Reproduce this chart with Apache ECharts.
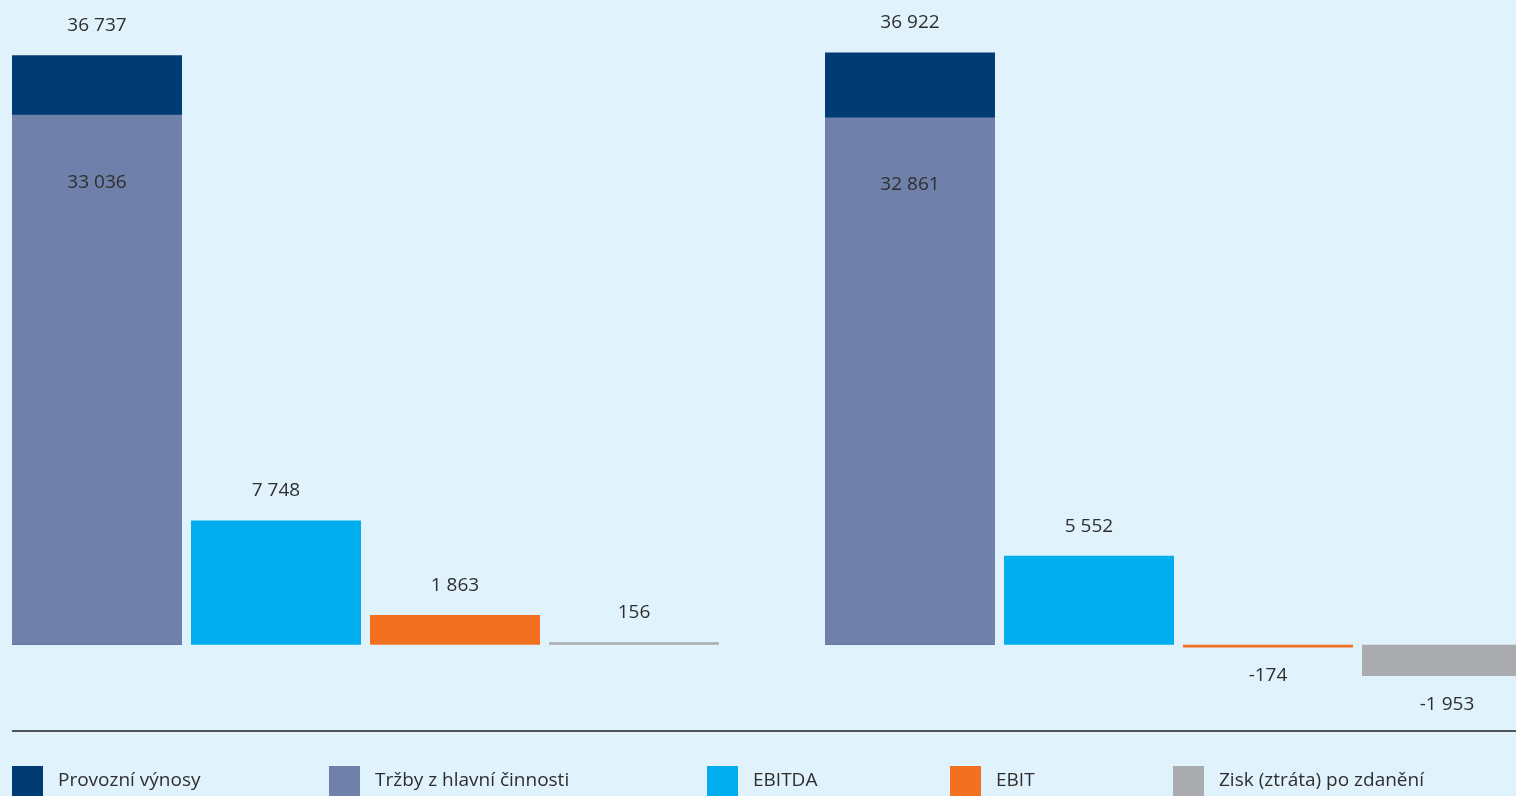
<!DOCTYPE html>
<html>
<head>
<meta charset="utf-8">
<script src="https://cdn.jsdelivr.net/npm/echarts@6/dist/echarts.min.js"></script>
<style>
html,body{margin:0;padding:0;background:#e0f2fc;}
#chart{width:1516px;height:796px;}
</style>
</head>
<body>
<div id="chart"></div>
<script>
const categories = ["Období 1", "Období 2"];
const provozniVynosy = [36737, 36922];
const trzby = [33036, 32861];
const ebitda = [7748, 5552];
const ebit = [1863, -174];
const zisk = [156, -1953];
const seriesNames = ["Provozní výnosy", "Tržby z hlavní činnosti", "EBITDA", "EBIT", "Zisk (ztráta) po zdanění"];
const colors = ["#003b73", "#6f80aa", "#00aeef", "#f37021", "#aaabaf"];

const FONT = "Open Sans";
const TXT = "#2e2e2e";
const fmt = v => {
  const s = Math.abs(v).toString().replace(/\B(?=(\d{3})+(?!\d))/g, " ");
  return (v < 0 ? "-" : "") + s;
};
const posLabel = {
  show: true,
  position: "top",
  distance: 20,
  fontFamily: FONT,
  fontSize: 19,
  color: TXT,
  formatter: p => fmt(p.value)
};
const signedLabel = (vals) => vals.map(v => ({
  value: v,
  label: Object.assign({}, posLabel, { position: v < 0 ? "bottom" : "top", distance: v < 0 ? 19 : 20 })
}));

const chart = echarts.init(document.getElementById("chart"));
const gridW = 1626;
const option = {
  backgroundColor: "#e0f2fc",
  animation: false,
  grid: [
    { left: -41, top: 3, width: gridW, bottom: 71, outerBoundsMode: "none", containLabel: false },
    { left: -309.5, top: 3, width: gridW, bottom: 71, outerBoundsMode: "none", containLabel: false }
  ],
  xAxis: [
    { type: "category", data: categories, gridIndex: 0, show: false },
    { type: "category", data: categories, gridIndex: 1, show: false }
  ],
  yAxis: [
    { type: "value", gridIndex: 0, min: -5000, max: 40000, show: false, splitLine: { show: false } },
    { type: "value", gridIndex: 1, min: -5000, max: 40000, show: false, splitLine: { show: false } }
  ],
  legend: seriesNames.map((n, i) => ({
    data: [n],
    left: [12, 329, 707, 950, 1173][i],
    top: 766,
    padding: 0,
    icon: "rect",
    itemWidth: 31,
    itemHeight: 30,
    selectedMode: false,
    textStyle: { fontFamily: FONT, fontSize: 19, color: TXT, padding: [10, 0, 0, 10] }
  })),
  graphic: [{
    type: "line",
    shape: { x1: 12, y1: 731, x2: 1516, y2: 731 },
    style: { stroke: "#222", lineWidth: 1.5 },
    silent: true
  }],
  series: [
    {
      name: seriesNames[0], type: "bar", xAxisIndex: 1, yAxisIndex: 1, z: 1,
      data: provozniVynosy, barWidth: 170,
      itemStyle: { color: colors[0] },
      label: posLabel
    },
    {
      name: seriesNames[1], type: "bar", xAxisIndex: 0, yAxisIndex: 0, z: 3,
      data: trzby, barWidth: 170, barGap: "5.294%",
      itemStyle: { color: colors[1] },
      label: Object.assign({}, posLabel, { position: "insideTop", distance: 58 })
    },
    {
      name: seriesNames[2], type: "bar", xAxisIndex: 0, yAxisIndex: 0, z: 3,
      data: ebitda, barWidth: 170, barGap: "5.294%",
      itemStyle: { color: colors[2] },
      label: posLabel
    },
    {
      name: seriesNames[3], type: "bar", xAxisIndex: 0, yAxisIndex: 0, z: 3,
      data: signedLabel(ebit), barWidth: 170, barGap: "5.294%",
      itemStyle: { color: colors[3] },
      label: posLabel
    },
    {
      name: seriesNames[4], type: "bar", xAxisIndex: 0, yAxisIndex: 0, z: 3,
      data: signedLabel(zisk), barWidth: 170, barGap: "5.294%",
      itemStyle: { color: colors[4] },
      label: posLabel
    }
  ]
};
chart.setOption(option);
</script>
</body>
</html>
